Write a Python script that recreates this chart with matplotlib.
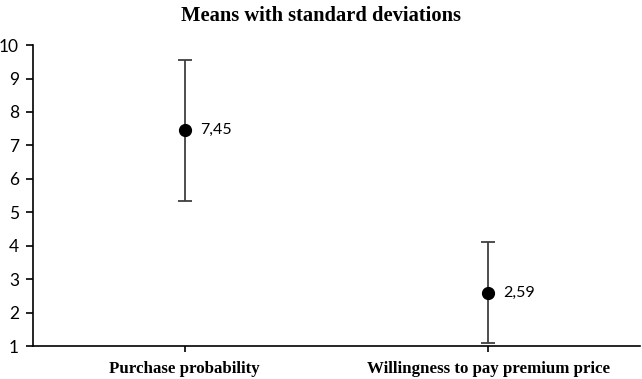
import matplotlib.pyplot as plt

categories = ["Purchase probability", "Willingness to pay premium price"]
means = [7.45, 2.59]
sds = [2.1, 1.51]
mean_labels = ["7,45", "2,59"]

fig = plt.figure(figsize=(6.42, 3.79), dpi=100)
ax = fig.add_axes([0.0514, 0.087, 0.946, 0.794])

x = [0.5, 1.5]
for xi, m, s, lab in zip(x, means, sds, mean_labels):
    ax.errorbar(xi, m, yerr=s, fmt="o", color="black", ecolor="#404040",
                elinewidth=1.3, capsize=5, capthick=1.3, markersize=8.5)
    ax.text(xi + 0.05, m, lab, va="center", ha="left", fontsize=11.5, family="Lato")

ax.set_xlim(0, 2)
ax.set_ylim(1, 10)
ax.set_yticks(range(1, 11))
ax.set_xticks(x)
ax.set_xticklabels(categories, fontsize=12.2, fontweight="bold", family="Liberation Serif")
for t in ax.get_yticklabels():
    t.set_family("Lato")
    t.set_fontsize(12.5)
ax.tick_params(axis="y", length=5, width=1.2, pad=5)
ax.tick_params(axis="x", length=4, width=1.2, pad=7)
ax.spines["top"].set_visible(False)
ax.spines["right"].set_visible(False)
ax.spines["left"].set_linewidth(1.2)
ax.spines["bottom"].set_linewidth(1.2)

fig.suptitle("Means with standard deviations", y=0.985, fontsize=14.8,
             fontweight="bold", family="Liberation Serif")

plt.savefig("out.png", dpi=100)
plt.close()
